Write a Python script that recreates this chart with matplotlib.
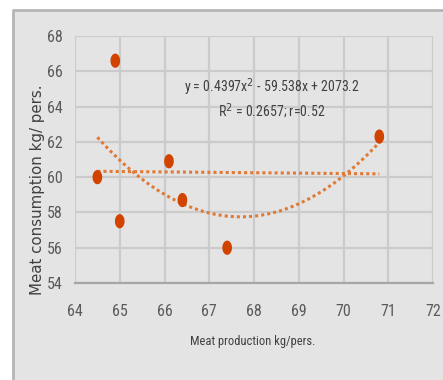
import numpy as np
import matplotlib
matplotlib.use("Agg")
import matplotlib.pyplot as plt
from matplotlib.path import Path
from matplotlib.patches import Rectangle
from matplotlib.lines import Line2D
from matplotlib import font_manager

# Meat production vs. consumption, kg per person
production = [64.5, 64.9, 65.0, 66.1, 66.4, 67.4, 70.8]
consumption = [60.0, 66.6, 57.5, 60.9, 58.7, 56.0, 62.3]

# Quadratic trend coefficients as reported in the annotation
quad_a, quad_b, quad_c = 0.4397, -59.538, 2073.2
r_squared = 0.2657
r_value = 0.52

x_ticks = [64, 65, 66, 67, 68, 69, 70, 71, 72]
y_ticks = [54, 56, 58, 60, 62, 64, 66, 68]

names = {f.name for f in font_manager.fontManager.ttflist}
narrow = "Liberation Sans"
for cand in ["Liberation Sans Narrow", "Roboto Condensed", "Liberation Sans"]:
    if cand in names:
        narrow = cand
        break

W, H = 443, 380
fig = plt.figure(figsize=(W / 100, H / 100), dpi=100)
fig.patch.set_facecolor("white")

# chart panel background with left and top border
x0, y0 = 13 / W, 1 - 10 / H
fig.patches.append(Rectangle((x0, 0), 1 - x0, y0, transform=fig.transFigure,
                             facecolor="#e4e4e4", edgecolor="none", zorder=-10))
fig.lines.append(Line2D([x0, x0, 1], [0, y0, y0], transform=fig.transFigure,
                        color="#b5b5b5", linewidth=2.0, zorder=-9))

ax = fig.add_axes([75 / W, 1 - 283 / H, (433 - 75) / W, (283 - 36) / H])
ax.set_zorder(5)
ax.set_facecolor("#e4e4e4")
ax.set_xlim(64, 72)
ax.set_ylim(54, 68)
ax.set_xticks(x_ticks)
ax.set_yticks(y_ticks)
ax.grid(True, color="#cbcbcb", linewidth=1.6)
ax.set_axisbelow(True)
for side in ["top", "right", "left"]:
    ax.spines[side].set_visible(False)
ax.spines["bottom"].set_color("#a6a6a6")
ax.spines["bottom"].set_linewidth(1.6)
ax.tick_params(axis="x", length=0, labelsize=11.5, labelcolor="#5a5a5a", pad=15)
ax.tick_params(axis="y", length=0, labelsize=11.5, labelcolor="#5a5a5a", pad=9)
for lbl in ax.get_xticklabels() + ax.get_yticklabels():
    lbl.set_fontfamily(narrow)

# linear trend (least squares)
lin = np.polyfit(production, consumption, 1)
xs = np.linspace(min(production), max(production), 200)
ax.plot(xs, np.polyval(lin, xs), color="#e07a35", linewidth=2.2,
        linestyle=(0, (1, 1)), zorder=2)

# quadratic trend
ax.plot(xs, quad_a * xs ** 2 + quad_b * xs + quad_c, color="#e07a35",
        linewidth=2.2, linestyle=(0, (1, 1)), zorder=2)

# slightly tall oval markers
t = np.linspace(0, 2 * np.pi, 40)
oval = Path(np.column_stack([0.68 * np.cos(t), np.sin(t)]), closed=True)
ax.scatter(production, consumption, marker=oval, s=105, color="#d24300",
           edgecolors="none", zorder=3)

eq = (f"y = {quad_a}x$^2$ - {abs(quad_b)}x + {quad_c}")
ax.text(68.4, 65.1, eq, ha="center", va="center", fontsize=10,
        color="#404040", family=narrow)
ax.text(68.4, 63.7, f"R$^2$ = {r_squared}; r={r_value}", ha="center",
        va="center", fontsize=10, color="#404040", family=narrow)

fig.text(253 / W, 1 - 341 / H, "Meat production kg/pers.", ha="center",
         va="center", fontsize=9, color="#404040", family=narrow)
fig.text(38 / W, 1 - 190 / H, "Meat consumption kg/ pers.", ha="center",
         va="center", rotation=90, fontsize=10.8, color="#404040",
         family="DejaVu Sans")

fig.savefig("out.png", dpi=100)
